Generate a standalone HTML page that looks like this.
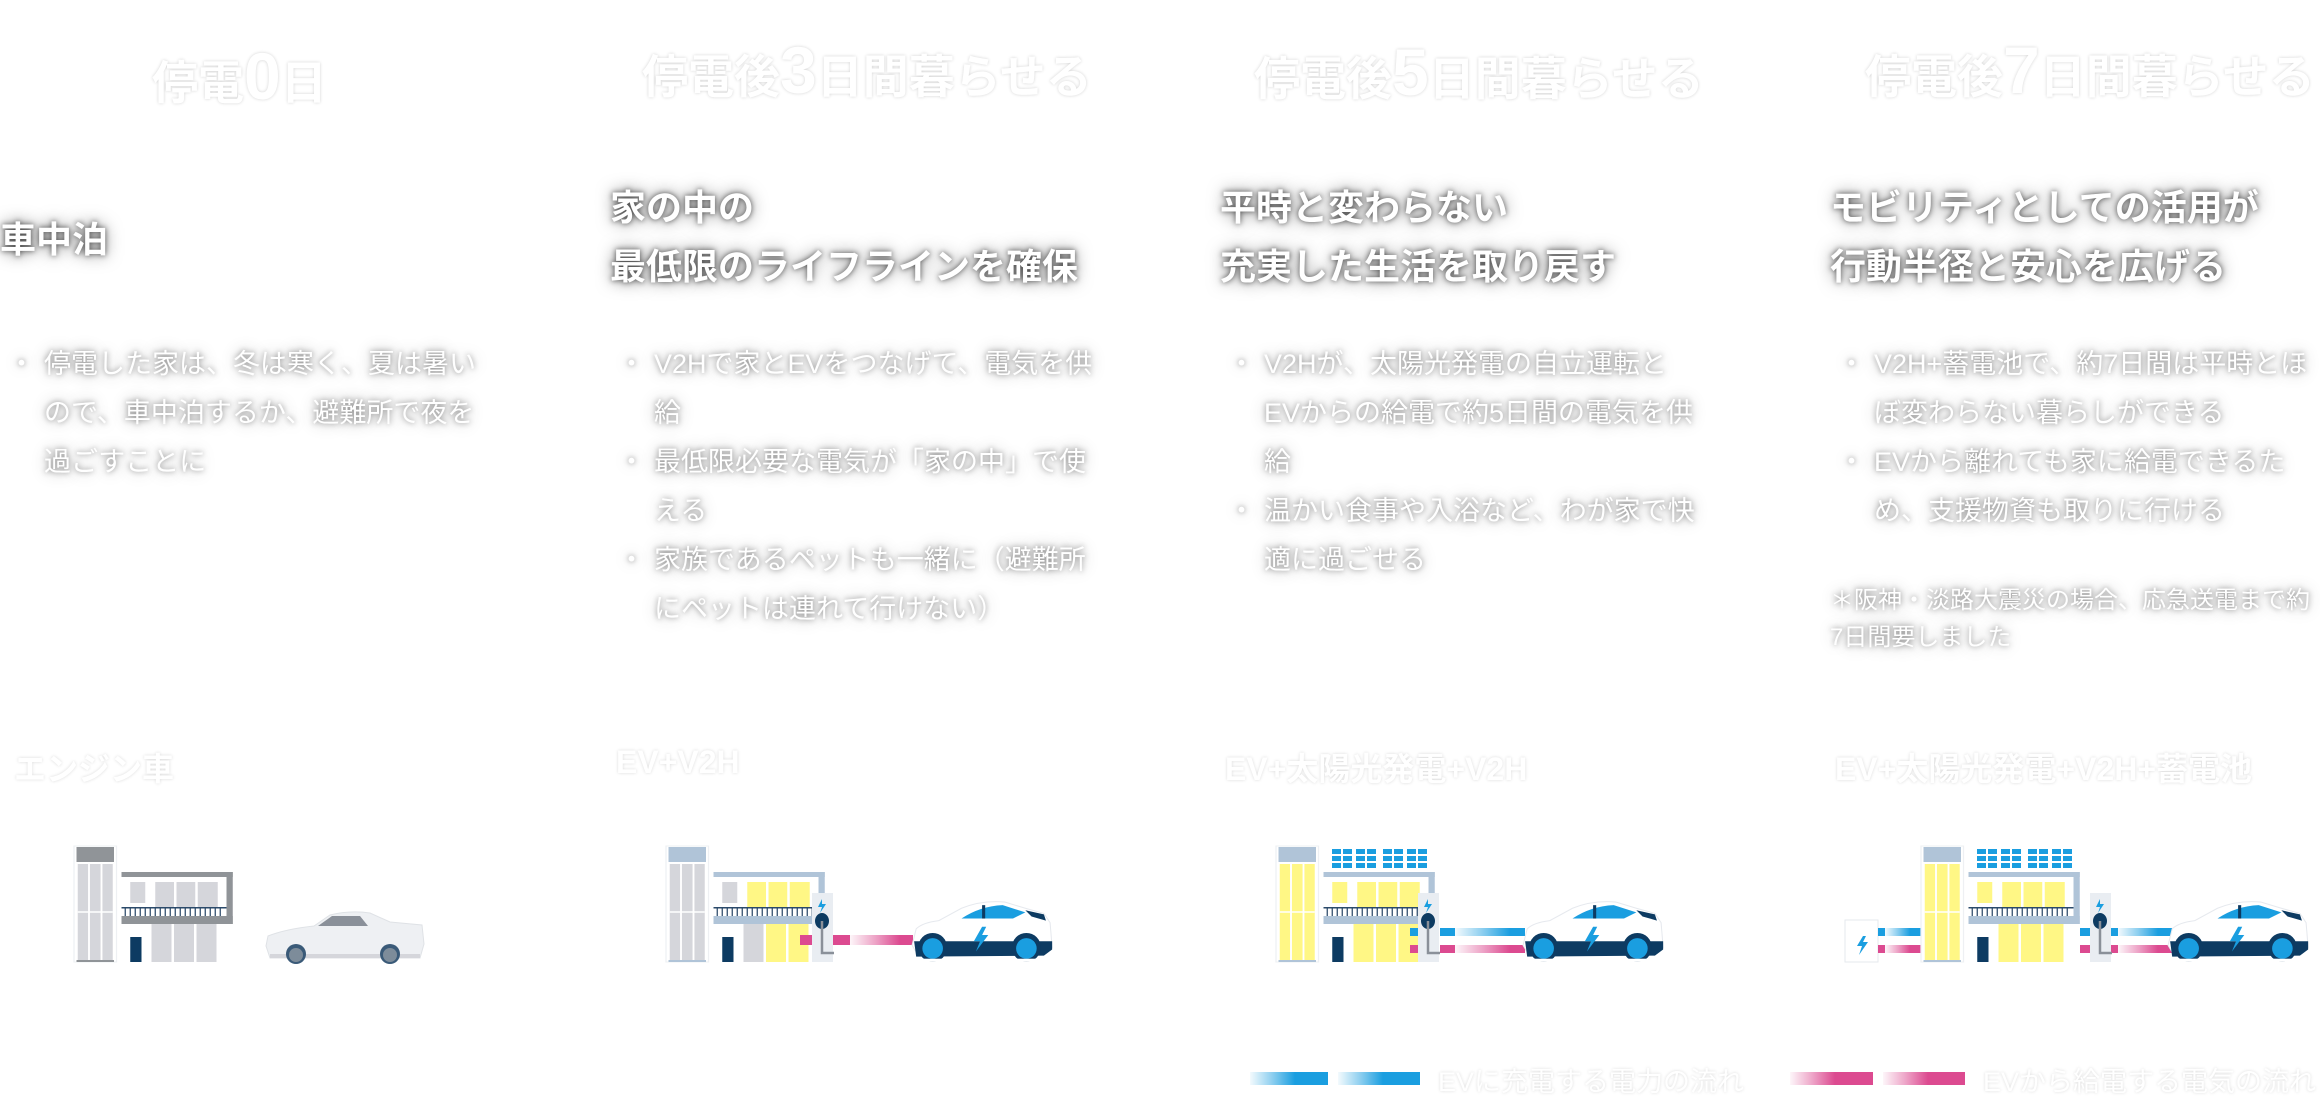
<!DOCTYPE html>
<html><head><meta charset="utf-8">
<style>
html,body{margin:0;padding:0;background:#fff;}
body{width:2320px;height:1112px;position:relative;overflow:hidden;font-family:"Liberation Sans","Noto Sans CJK JP",sans-serif;color:#fff;}
.t{position:absolute;white-space:nowrap;}
.title{font-size:46px;font-weight:bold;text-shadow:0 0 3px rgba(0,0,0,.18);}
.title b{font-size:66px;}
.h{font-size:36px;font-weight:bold;line-height:59px;text-shadow:0 0 6px rgba(0,0,0,.65),0 0 16px rgba(0,0,0,.5);}
.ul{font-size:27px;line-height:49px;white-space:normal;text-shadow:0 0 6px rgba(0,0,0,.45),0 0 16px rgba(0,0,0,.3);}
.ul div{position:relative;padding-left:44px;}
.ul div:before{content:"・";position:absolute;left:8px;}
.lab{font-size:32px;font-weight:bold;text-shadow:0 0 3px rgba(0,0,0,.15);}
.leg{font-size:27px;text-shadow:0 0 3px rgba(0,0,0,.15);}
</style></head><body>

<div class="t title" style="left:152px;top:38px;">停電<b>0</b>日</div>
<div class="t title" style="left:642px;top:32px;">停電後<b>3</b>日間暮らせる</div>
<div class="t title" style="left:1254px;top:34px;">停電後<b>5</b>日間暮らせる</div>
<div class="t title" style="left:1865px;top:32px;">停電後<b>7</b>日間暮らせる</div>

<div class="t h" style="left:0;top:210px;">車中泊</div>
<div class="t h" style="left:610px;top:178px;">家の中の<br>最低限のライフラインを確保</div>
<div class="t h" style="left:1220px;top:178px;">平時と変わらない<br>充実した生活を取り戻す</div>
<div class="t h" style="left:1830px;top:178px;">モビリティとしての活用が<br>行動半径と安心を広げる</div>

<div class="t ul" style="left:0;top:340px;width:495px;"><div>停電した家は、冬は寒く、夏は暑いので、車中泊するか、避難所で夜を過ごすことに</div></div>
<div class="t ul" style="left:610px;top:340px;width:495px;"><div>V2Hで家とEVをつなげて、電気を供給</div><div>最低限必要な電気が「家の中」で使える</div><div>家族であるペットも一緒に（避難所にペットは連れて行けない）</div></div>
<div class="t ul" style="left:1220px;top:340px;width:495px;"><div>V2Hが、太陽光発電の自立運転と<br>EVからの給電で約5日間の電気を供給</div><div>温かい食事や入浴など、わが家で快適に過ごせる</div></div>
<div class="t ul" style="left:1830px;top:340px;width:495px;"><div>V2H+蓄電池で、約7日間は平時とほぼ変わらない暮らしができる</div><div>EVから離れても家に給電できるため、支援物資も取りに行ける</div></div>
<div class="t ul" style="left:1830px;top:582px;width:490px;font-size:24px;line-height:37px;">＊阪神・淡路大震災の場合、応急送電まで約7日間要しました</div>

<div class="t lab" style="left:14px;top:744px;">エンジン車</div>
<div class="t lab" style="left:616px;top:744px;">EV+V2H</div>
<div class="t lab" style="left:1225px;top:744px;">EV+太陽光発電+V2H</div>
<div class="t lab" style="left:1835px;top:744px;">EV+太陽光発電+V2H+蓄電池</div>

<div class="t leg" style="left:1438px;top:1060px;">EVに充電する電力の流れ</div>
<div class="t leg" style="left:1983px;top:1060px;">EVから給電する電気の流れ</div>

<svg width="2320" height="1112" style="position:absolute;left:0;top:0;">
<defs>
<linearGradient id="fade" x1="0" x2="1" y1="0" y2="0">
  <stop offset="0" stop-color="#fff" stop-opacity="0.95"/>
  <stop offset="0.5" stop-color="#fff" stop-opacity="0.5"/>
  <stop offset="1" stop-color="#fff" stop-opacity="0"/>
</linearGradient>
<g id="house">
  <rect x="0" y="846" width="34" height="116" fill="#fff" stroke="#eef0f3" stroke-width="1"/>
  <rect x="2" y="847" width="30" height="15" style="fill:var(--cap)"/>
  <rect x="3" y="864" width="28" height="96" style="fill:var(--tw)"/>
  <line x1="12" y1="864" x2="12" y2="960" stroke="#fff" stroke-width="1.5"/>
  <line x1="22" y1="864" x2="22" y2="960" stroke="#fff" stroke-width="1.5"/>
  <line x1="3" y1="912" x2="31" y2="912" stroke="#fff" stroke-width="1.5"/>
  <rect x="2" y="960" width="30" height="2" style="fill:var(--cap)"/>
  <rect x="38" y="872" width="89" height="5" style="fill:var(--cap)"/>
  <rect x="122" y="872" width="5" height="52" style="fill:var(--cap)"/>
  <rect x="38" y="916" width="89" height="8" style="fill:var(--cap)"/>
  <rect x="38" y="907" width="84" height="1.5" fill="#2b4a6a"/>
  <g stroke="#2b4a6a" stroke-width="1">
    <line x1="41" y1="908" x2="41" y2="916"/><line x1="45" y1="908" x2="45" y2="916"/><line x1="49" y1="908" x2="49" y2="916"/><line x1="53" y1="908" x2="53" y2="916"/><line x1="57" y1="908" x2="57" y2="916"/><line x1="61" y1="908" x2="61" y2="916"/><line x1="65" y1="908" x2="65" y2="916"/><line x1="69" y1="908" x2="69" y2="916"/><line x1="73" y1="908" x2="73" y2="916"/><line x1="77" y1="908" x2="77" y2="916"/><line x1="81" y1="908" x2="81" y2="916"/><line x1="85" y1="908" x2="85" y2="916"/><line x1="89" y1="908" x2="89" y2="916"/><line x1="93" y1="908" x2="93" y2="916"/><line x1="97" y1="908" x2="97" y2="916"/><line x1="101" y1="908" x2="101" y2="916"/><line x1="105" y1="908" x2="105" y2="916"/><line x1="109" y1="908" x2="109" y2="916"/><line x1="113" y1="908" x2="113" y2="916"/><line x1="117" y1="908" x2="117" y2="916"/>
  </g>
  <rect x="45" y="882" width="12" height="21" style="fill:var(--w1)"/>
  <rect x="65" y="882" width="15" height="25" style="fill:var(--w2)"/>
  <rect x="82" y="882" width="15" height="25" style="fill:var(--w2)"/>
  <rect x="99" y="882" width="16" height="25" style="fill:var(--w2)"/>
  <rect x="45" y="937" width="9" height="25" fill="#0d3b62"/>
  <rect x="62" y="924" width="16" height="38" style="fill:var(--w3)"/>
  <rect x="80" y="924" width="16" height="38" style="fill:var(--w2)"/>
  <rect x="98" y="924" width="16" height="38" style="fill:var(--w2)"/>
</g>
<g id="charger">
  <rect x="0" y="893" width="21" height="69" fill="#e9edf2"/>
  <path d="M10 899 L6 907 L10 907 L8 913 L14 904 L10 904 Z" fill="#1a9ee0"/>
  <ellipse cx="10" cy="921" rx="7" ry="8" fill="#0d3b62"/>
  <path d="M10 921 L10 953 L22 953" stroke="#8a9099" stroke-width="2.5" fill="none"/>
</g>
<g id="solar">
  <g fill="#1a9ee0">
    <rect x="0" y="0" width="9" height="5"/><rect x="11" y="0" width="9" height="5"/><rect x="24" y="0" width="9" height="5"/><rect x="35" y="0" width="9" height="5"/>
    <rect x="0" y="7" width="9" height="5"/><rect x="11" y="7" width="9" height="5"/><rect x="24" y="7" width="9" height="5"/><rect x="35" y="7" width="9" height="5"/>
    <rect x="0" y="14" width="9" height="5"/><rect x="11" y="14" width="9" height="5"/><rect x="24" y="14" width="9" height="5"/><rect x="35" y="14" width="9" height="5"/>
  </g>
</g>
<g id="ev">
  <path d="M6 28 Q12 22 28 20 L50 8 Q70 0 92 2 L112 8 L130 13 L136 22 L138 46 L132 52 L8 54 L2 44 Z" fill="#fff" stroke="#e6e9ee" stroke-width="1"/>
  <path d="M50 18 Q68 6 90 5 L112 12 L100 18 Z" fill="#1a9ee0"/>
  <rect x="70" y="5" width="3" height="13" fill="#0d3b62"/>
  <path d="M112 10 L130 14 L132 20 L118 16 Z" fill="#0d3b62"/>
  <path d="M4 40 L138 40 L138 48 L130 54 L6 55 Z" fill="#0d3b62"/>
  <path d="M70 26 L62 40 L68 40 L64 50 L76 34 L70 34 L74 26 Z" fill="#1a9ee0"/>
  <circle cx="22" cy="46" r="14" fill="#0d3b62"/>
  <circle cx="22" cy="47" r="10" fill="#1a9ee0"/>
  <circle cx="113" cy="46" r="14" fill="#0d3b62"/>
  <circle cx="113" cy="47" r="10" fill="#1a9ee0"/>
  <rect x="0" y="57" width="140" height="3" fill="#fff"/>
</g>
</defs>

<!-- Column 1 -->
<g style="--cap:#909498;--tw:#d5d6db;--w1:#d5d6db;--w2:#d5d6db;--w3:#d5d6db" transform="translate(74,0) scale(1.25,1)"><use href="#house"/></g>
<g transform="translate(266,910)">
  <path d="M2 26 Q20 19 48 16 L64 5 Q84 0 104 3 L124 12 L156 15 L158 34 L154 48 L4 48 L0 36 Z" fill="#eef0f3" stroke="#dfe2e6"/>
  <path d="M52 16 L66 6 L94 6 L102 16 Z" fill="#8a9099"/>
  <rect x="4" y="44" width="150" height="4" fill="#d5d6db"/>
  <circle cx="30" cy="44" r="10" fill="#3a5a78"/><circle cx="30" cy="45" r="7" fill="#7d8c9a"/>
  <circle cx="124" cy="44" r="10" fill="#3a5a78"/><circle cx="124" cy="45" r="7" fill="#7d8c9a"/>
</g>

<!-- Column 2 -->
<g style="--cap:#b0c4d8;--tw:#d5d6db;--w1:#d5d6db;--w2:#fff785;--w3:#d5d6db" transform="translate(666,0) scale(1.25,1)"><use href="#house"/></g>
<rect x="800" y="935" width="12" height="10" fill="#dc4a90"/>
<rect x="833" y="935" width="80" height="10" fill="#dc4a90"/>
<rect x="850" y="935" width="50" height="10" fill="url(#fade)"/>
<g transform="translate(812,0)"><use href="#charger"/></g>
<g transform="translate(910,900)"><use href="#ev" transform="scale(1.03,1.03)"/></g>

<!-- Column 3 -->
<g style="--cap:#b0c4d8;--tw:#fff785;--w1:#fff785;--w2:#fff785;--w3:#fff785" transform="translate(1276,0) scale(1.25,1)"><use href="#house"/></g>
<g transform="translate(1332,849)"><use href="#solar"/></g>
<g transform="translate(1383,849)"><use href="#solar"/></g>
<rect x="1410" y="928" width="8" height="8" fill="#1a9ee0"/>
<rect x="1410" y="945" width="8" height="8" fill="#dc4a90"/>
<rect x="1440" y="928" width="85" height="8" fill="#1a9ee0"/>
<rect x="1440" y="945" width="85" height="8" fill="#dc4a90"/>
<rect x="1455" y="928" width="55" height="25" fill="url(#fade)"/>
<g transform="translate(1418,0)"><use href="#charger"/></g>
<g transform="translate(1521,900)"><use href="#ev" transform="scale(1.03,1.03)"/></g>

<!-- Column 4 -->
<rect x="1845" y="920" width="33" height="42" fill="#fff" stroke="#e6e9ee"/>
<path d="M1863 936 L1857 946 L1862 946 L1859 955 L1868 942 L1863 942 L1866 936 Z" fill="#1a9ee0"/>
<rect x="1878" y="928" width="43" height="8" fill="#1a9ee0"/>
<rect x="1878" y="945" width="43" height="8" fill="#dc4a90"/>
<rect x="1885" y="928" width="25" height="25" fill="url(#fade)"/>
<g style="--cap:#b0c4d8;--tw:#fff785;--w1:#fff785;--w2:#fff785;--w3:#fff785" transform="translate(1921,0) scale(1.25,1)"><use href="#house"/></g>
<g transform="translate(1977,849)"><use href="#solar"/></g>
<g transform="translate(2028,849)"><use href="#solar"/></g>
<rect x="2080" y="928" width="10" height="8" fill="#1a9ee0"/>
<rect x="2080" y="945" width="10" height="8" fill="#dc4a90"/>
<rect x="2110" y="928" width="62" height="8" fill="#1a9ee0"/>
<rect x="2110" y="945" width="62" height="8" fill="#dc4a90"/>
<rect x="2118" y="928" width="40" height="25" fill="url(#fade)"/>
<g transform="translate(2090,0)"><use href="#charger"/></g>
<g transform="translate(2166,900)"><use href="#ev" transform="scale(1.03,1.03)"/></g>

<!-- legends -->
<rect x="1250" y="1072" width="78" height="13" fill="#1a9ee0"/>
<rect x="1338" y="1072" width="82" height="13" fill="#1a9ee0"/>
<rect x="1250" y="1072" width="45" height="13" fill="url(#fade)"/>
<rect x="1338" y="1072" width="45" height="13" fill="url(#fade)"/>
<rect x="1790" y="1072" width="83" height="13" fill="#dc4a90"/>
<rect x="1883" y="1072" width="82" height="13" fill="#dc4a90"/>
<rect x="1790" y="1072" width="45" height="13" fill="url(#fade)"/>
<rect x="1883" y="1072" width="45" height="13" fill="url(#fade)"/>
</svg>
</body></html>
